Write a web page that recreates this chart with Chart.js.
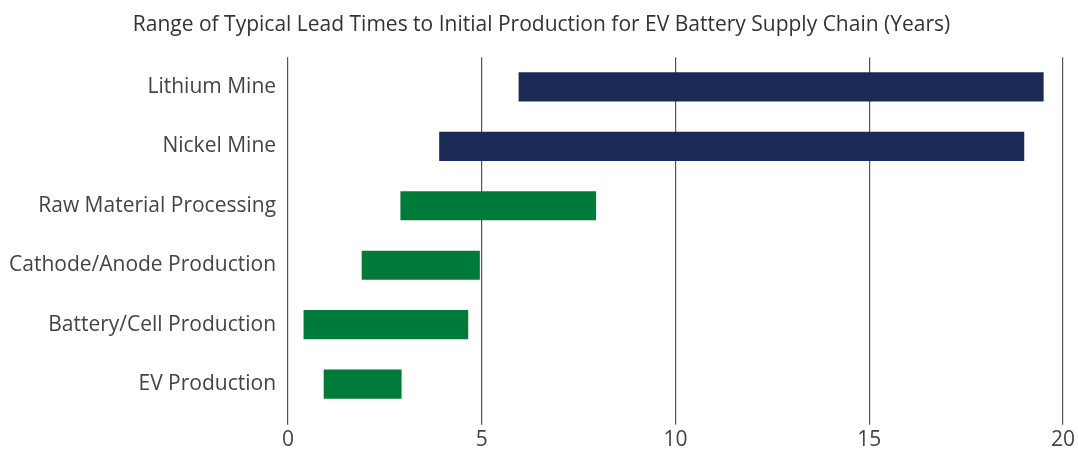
<!DOCTYPE html>
<html>
<head>
<meta charset="utf-8">
<script src="https://cdn.jsdelivr.net/npm/chart.js@4"></script>
<style>
  html, body { margin: 0; padding: 0; background: #fff; }
  #wrap { width: 1078px; height: 450px; position: relative; }
</style>
</head>
<body>
<div id="wrap"><canvas id="chart"></canvas></div>
<script>
// stages and their lead-time ranges (years)
const stages = [
  "Lithium Mine",
  "Nickel Mine",
  "Raw Material Processing",
  "Cathode/Anode Production",
  "Battery/Cell Production",
  "EV Production",
];
const startYears = [5.95, 3.9, 2.9, 1.9, 0.4, 0.92];
const endYears = [19.5, 19.0, 7.95, 4.95, 4.65, 2.93];
const barColors = ["#1b2a55", "#1b2a55", "#007a39", "#007a39", "#007a39", "#007a39"];
const xTicks = [0, 5, 10, 15, 20];

const FONT = "'Open Sans', sans-serif";

new Chart(document.getElementById("chart").getContext("2d"), {
  type: "bar",
  data: {
    labels: stages,
    datasets: [
      {
        data: stages.map((_, i) => [startYears[i], endYears[i]]),
        backgroundColor: barColors,
        borderWidth: 0,
        borderSkipped: false,
        barPercentage: 0.49,
        categoryPercentage: 1,
      },
    ],
  },
  options: {
    indexAxis: "y",
    responsive: true,
    maintainAspectRatio: false,
    animation: false,
    layout: { padding: { top: 12, right: 0, left: 5, bottom: -6 } },
    plugins: {
      legend: { display: false },
      tooltip: { enabled: false },
      title: {
        display: true,
        text: "Range of Typical Lead Times to Initial Production for EV Battery Supply Chain (Years)",
        color: "#333",
        font: { family: FONT, size: 21, weight: "normal" },
        padding: { top: 0, bottom: 20 },
      },
    },
    scales: {
      x: {
        min: 0,
        max: 20,
        afterBuildTicks: (axis) => {
          axis.ticks = xTicks.map((v) => ({ value: v }));
        },
        border: { display: false },
        grid: {
          color: "#555",
          lineWidth: 1.2,
          drawOnChartArea: true,
          drawTicks: true,
          tickLength: 11,
        },
        ticks: {
          color: "#444",
          padding: 3,
          font: { family: FONT, size: 21 },
        },
      },
      y: {
        border: { display: false },
        grid: { display: false },
        ticks: {
          color: "#444",
          padding: 4,
          font: { family: FONT, size: 21 },
        },
      },
    },
  },
});
</script>
</body>
</html>
